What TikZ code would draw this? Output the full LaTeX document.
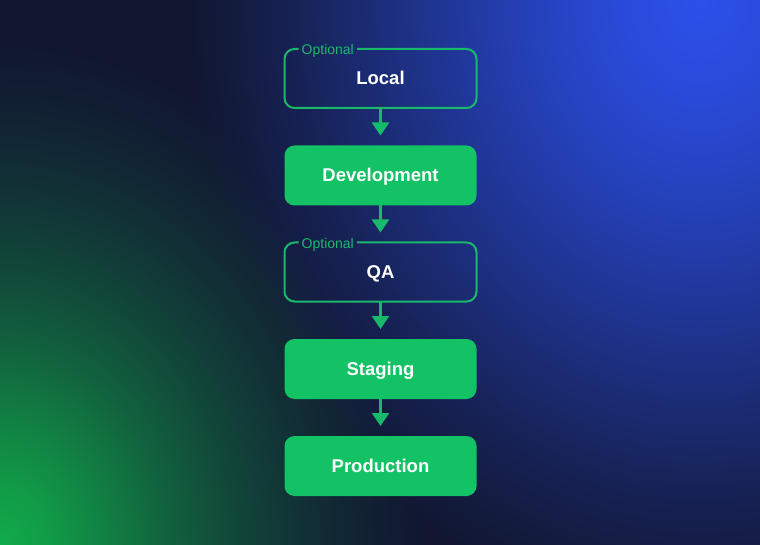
\documentclass[tikz,border=0pt]{standalone}
\usepackage{fontspec}
\setmainfont{Liberation Sans}
\usepackage{tikz}
\usetikzlibrary{positioning,arrows.meta}

\definecolor{bgnavy}{HTML}{111731}
\definecolor{glowblue}{HTML}{2C50EA}
\definecolor{glowgreen}{HTML}{0EAC4A}
\definecolor{boxgreen}{HTML}{12C265}
\definecolor{linegreen}{HTML}{19B96C}

% soft glows, strong in the middle and gone at the rim
\pgfdeclareradialshading{blueglow}{\pgfpointorigin}{color(0bp)=(glowblue); color(4bp)=(glowblue!90!bgnavy); color(8bp)=(glowblue!75!bgnavy); color(12bp)=(glowblue!57!bgnavy); color(16bp)=(glowblue!38!bgnavy); color(20bp)=(glowblue!19!bgnavy); color(23bp)=(glowblue!7!bgnavy); color(25bp)=(bgnavy); color(50bp)=(bgnavy)}
\pgfdeclareradialshading{greenglow}{\pgfpointorigin}{color(0bp)=(glowgreen); color(3bp)=(glowgreen!88!bgnavy); color(6bp)=(glowgreen!72!bgnavy); color(10bp)=(glowgreen!50!bgnavy); color(14bp)=(glowgreen!32!bgnavy); color(18bp)=(glowgreen!17!bgnavy); color(22bp)=(glowgreen!6!bgnavy); color(25bp)=(bgnavy); color(50bp)=(bgnavy)}

\begin{document}
\begin{tikzpicture}[x=1pt, y=-1pt,
    stage/.style={fill=boxgreen, rounded corners=10pt, minimum width=192pt, minimum height=60pt, outer sep=0pt, text=white, text height=13pt, text depth=0pt, font=\bfseries\fontsize{18.5}{20}\selectfont},
    optbox/.style={minimum width=192pt, minimum height=59pt, outer sep=0pt, text=white, text height=13pt, text depth=0pt, font=\bfseries\fontsize{18.5}{20}\selectfont},
    optlabel/.style={inner xsep=3pt, inner ysep=1pt, text=linegreen, text height=10pt, text depth=0pt, font=\fontsize{14}{16}\selectfont, anchor=west},
    optline/.style={draw=linegreen, line width=2pt, rounded corners=10pt},
    flow/.style={draw=linegreen, line width=2.4pt, -{Triangle[width=17pt,length=13pt]}, shorten >=10pt}]

    % Background
    \useasboundingbox (0,0) rectangle (760,545);
    \clip (0,0) rectangle (760,545);
    \fill[bgnavy] (0,0) rectangle (760,545);
    \shade[shading=blueglow] (700,0) ellipse [x radius=510pt, y radius=620pt];
    \shade[shading=greenglow, blend mode=lighten] (0,545) ellipse [x radius=420pt, y radius=500pt];

    % Nodes
    \node at (380.5,78.5) (local) [optbox] {Local};
    \node at (380.5,175.5) (dev) [stage] {Development};
    \node at (380.5,272) (qa) [optbox] {QA};
    \node at (380.5,369) (staging) [stage] {Staging};
    \node at (380.5,466) (prod) [stage] {Production};

    % Optional labels and their open frames
    \node at ([xshift=14pt, yshift=-1pt]local.north west) (optlocal) [optlabel] {Optional};
    \node at ([xshift=14pt, yshift=-1pt]qa.north west) (optqa) [optlabel] {Optional};
    \draw[optline] (optlocal.east |- local.north) -- (local.north east) -- (local.south east) -- (local.south west) -- (local.north west) -- (optlocal.west |- local.north);
    \draw[optline] (optqa.east |- qa.north) -- (qa.north east) -- (qa.south east) -- (qa.south west) -- (qa.north west) -- (optqa.west |- qa.north);

    % Arrows
    \draw[flow] (local) -- (dev);
    \draw[flow] (dev) -- (qa);
    \draw[flow] (qa) -- (staging);
    \draw[flow] (staging) -- (prod);

\end{tikzpicture}
\end{document}
